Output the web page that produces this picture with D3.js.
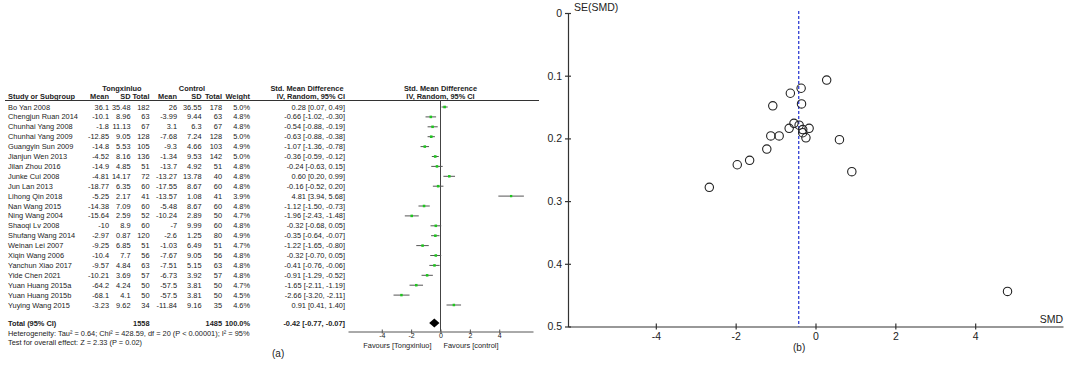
<!DOCTYPE html>
<html>
<head>
<meta charset="utf-8">
<script src="https://cdn.jsdelivr.net/npm/d3@7"></script>
<style>
  body { margin: 0; background: #fff; }
  svg { display: block; font-family: "Liberation Sans", Arial, sans-serif; }
</style>
</head>
<body>
<svg id="chart" width="1065" height="370"></svg>
<script>
const studies = ["Bo Yan 2008", "Chengjun Ruan 2014", "Chunhai Yang 2008", "Chunhai Yang 2009", "Guangyin Sun 2009",
  "Jianjun Wen 2013", "Jilan Zhou 2016", "Junke Cui 2008", "Jun Lan 2013", "Lihong Qin 2018", "Nan Wang 2015",
  "Ning Wang 2004", "Shaoqi Lv 2008", "Shufang Wang 2014", "Weinan Lei 2007", "Xiqin Wang 2006", "Yanchun Xiao 2017",
  "Yide Chen 2021", "Yuan Huang 2015a", "Yuan Huang 2015b", "Yuying Wang 2015"];
const txMean = [36.1, -10.1, -1.8, -12.85, -14.8, -4.52, -14.9, -4.81, -18.77, -5.25, -14.38, -15.64, -10, -2.97, -9.25, -10.4, -9.57, -10.21, -64.2, -68.1, -3.23];
const txSD = [35.48, 8.96, 11.13, 9.05, 5.53, 8.16, 4.85, 14.17, 6.35, 2.17, 7.09, 2.59, 8.9, 0.87, 6.85, 7.7, 4.84, 3.69, 4.24, 4.1, 9.62];
const txN = [182, 63, 67, 128, 105, 136, 51, 72, 60, 41, 60, 52, 60, 120, 51, 56, 63, 57, 50, 50, 34];
const ctMean = [26, -3.99, 3.1, -7.68, -9.3, -1.34, -13.7, -13.27, -17.55, -13.57, -5.48, -10.24, -7, -2.6, -1.03, -7.67, -7.51, -6.73, -57.5, -57.5, -11.84];
const ctSD = [36.55, 9.44, 6.3, 7.24, 4.66, 9.53, 4.92, 13.78, 8.67, 1.08, 8.67, 2.89, 9.99, 1.25, 6.49, 9.05, 5.15, 3.92, 3.81, 3.81, 9.16];
const ctN = [178, 63, 67, 128, 103, 142, 51, 40, 60, 41, 60, 50, 60, 80, 51, 56, 63, 57, 50, 50, 35];
const weight = [5.0, 4.8, 4.8, 5.0, 4.9, 5.0, 4.8, 4.8, 4.8, 3.9, 4.8, 4.7, 4.8, 4.9, 4.7, 4.8, 4.8, 4.8, 4.7, 4.5, 4.6];
const smd = [0.28, -0.66, -0.54, -0.63, -1.07, -0.36, -0.24, 0.60, -0.16, 4.81, -1.12, -1.96, -0.32, -0.35, -1.22, -0.32, -0.41, -0.91, -1.65, -2.66, 0.91];
const ciLow = [0.07, -1.02, -0.88, -0.88, -1.36, -0.59, -0.63, 0.20, -0.52, 3.94, -1.50, -2.43, -0.68, -0.64, -1.65, -0.70, -0.76, -1.29, -2.11, -3.20, 0.41];
const ciHigh = [0.49, -0.30, -0.19, -0.38, -0.78, -0.12, 0.15, 0.99, 0.20, 5.68, -0.73, -1.48, 0.05, -0.07, -0.80, 0.05, -0.06, -0.52, -1.19, -2.11, 1.40];
const se = [0.107, 0.184, 0.176, 0.128, 0.148, 0.120, 0.199, 0.202, 0.184, 0.444, 0.196, 0.242, 0.186, 0.145, 0.217, 0.191, 0.179, 0.196, 0.235, 0.278, 0.253];

const totalTx = 1558, totalCt = 1485, totalWeight = 100.0;
const pooled = [-0.42, -0.77, -0.07];
const heterogeneity = "Heterogeneity: Tau² = 0.64; Chi² = 428.59, df = 20 (P < 0.00001); I² = 95%";
const overallTest = "Test for overall effect: Z = 2.33 (P = 0.02)";
const forestTicks = [-4, -2, 0, 2, 4];
const funnelXTicks = [-4, -2, 0, 2, 4];
const funnelYTicks = [0, 0.1, 0.2, 0.3, 0.4, 0.5];

const svg = d3.select("#chart");
const ink = "#222";
const fs = 7.4;

// ---------- (a) forest plot ----------
const rowY = d3.scalePoint().domain(studies).range([107, 305]);
const fx = d3.scaleLinear().domain([-6.3, 6.3]).range([348, 533]);
const ci = (m, l, h) => `${m.toFixed(2)} [${l.toFixed(2)}, ${h.toFixed(2)}]`;

const rows = studies.map((s, i) => ({
  study: s, txMean: txMean[i], txSD: txSD[i], txN: txN[i],
  ctMean: ctMean[i], ctSD: ctSD[i], ctN: ctN[i],
  weight: weight[i], smd: smd[i], lo: ciLow[i], hi: ciHigh[i], se: se[i]
}));

// table columns
const cols = [
  { head: "Study or Subgroup", x: 8, anchor: "start", val: d => d.study },
  { head: "Mean", x: 109, anchor: "end", val: d => d.txMean },
  { head: "SD", x: 130.5, anchor: "end", val: d => d.txSD },
  { head: "Total", x: 149.5, anchor: "end", val: d => d.txN },
  { head: "Mean", x: 177, anchor: "end", val: d => d.ctMean },
  { head: "SD", x: 201.5, anchor: "end", val: d => d.ctSD },
  { head: "Total", x: 222, anchor: "end", val: d => d.ctN },
  { head: "Weight", x: 250, anchor: "end", val: d => d.weight.toFixed(1) + "%" },
  { head: "IV, Random, 95% CI", x: 345, anchor: "end", val: d => ci(d.smd, d.lo, d.hi) }
];

const table = svg.append("g").attr("font-size", fs).attr("fill", ink);

const groupHeads = [
  { t: "Tongxinluo", x: 122 },
  { t: "Control", x: 192 },
  { t: "Std. Mean Difference", x: 307 },
  { t: "Std. Mean Difference", x: fx(0) }
];
table.selectAll("text.group")
  .data(groupHeads)
  .join("text")
  .attr("class", "group")
  .attr("x", d => d.x)
  .attr("y", 90.5)
  .attr("text-anchor", "middle")
  .attr("font-weight", "bold")
  .text(d => d.t);

table.selectAll("text.head")
  .data(cols)
  .join("text")
  .attr("class", "head")
  .attr("x", d => d.x)
  .attr("y", 99)
  .attr("text-anchor", d => d.anchor)
  .attr("font-weight", "bold")
  .text(d => d.head);

table.append("text")
  .attr("x", fx(0))
  .attr("y", 99)
  .attr("text-anchor", "middle")
  .attr("font-weight", "bold")
  .text("IV, Random, 95% CI");

svg.append("line")
  .attr("x1", 5).attr("x2", 539)
  .attr("y1", 100.5).attr("y2", 100.5)
  .attr("stroke", "#333").attr("stroke-width", 1);

const rowG = table.selectAll("g.row")
  .data(rows)
  .join("g")
  .attr("class", "row")
  .attr("transform", d => `translate(0,${rowY(d.study)})`);

cols.forEach(c => {
  rowG.append("text")
    .attr("x", c.x)
    .attr("dy", "0.35em")
    .attr("text-anchor", c.anchor)
    .text(d => c.val(d));
});

// total row
const totalY = 323;
const totals = [
  { x: 8, anchor: "start", t: "Total (95% CI)" },
  { x: 149.5, anchor: "end", t: totalTx },
  { x: 222, anchor: "end", t: totalCt },
  { x: 250, anchor: "end", t: totalWeight.toFixed(1) + "%" },
  { x: 345, anchor: "end", t: ci(pooled[0], pooled[1], pooled[2]) }
];
table.selectAll("text.total")
  .data(totals)
  .join("text")
  .attr("class", "total")
  .attr("x", d => d.x)
  .attr("y", totalY)
  .attr("dy", "0.35em")
  .attr("text-anchor", d => d.anchor)
  .attr("font-weight", "bold")
  .text(d => d.t);

table.append("text").attr("x", 8).attr("y", 333).attr("dy", "0.35em").text(heterogeneity);
table.append("text").attr("x", 8).attr("y", 342).attr("dy", "0.35em").text(overallTest);

// plot region
const plot = svg.append("g");
plot.append("line")
  .attr("x1", fx(0)).attr("x2", fx(0))
  .attr("y1", 100.5).attr("y2", 331.5)
  .attr("stroke", "#444").attr("stroke-width", 1);

const size = d3.scaleSqrt().domain([0, 5]).range([0, 2.6]);
const marks = plot.selectAll("g.mark")
  .data(rows)
  .join("g")
  .attr("class", "mark")
  .attr("transform", d => `translate(0,${rowY(d.study)})`);
marks.append("line")
  .attr("x1", d => fx(d.lo)).attr("x2", d => fx(d.hi))
  .attr("stroke", "#555").attr("stroke-width", 1);
marks.append("rect")
  .attr("x", d => fx(d.smd) - size(d.weight) / 2)
  .attr("y", d => -size(d.weight) / 2)
  .attr("width", d => size(d.weight))
  .attr("height", d => size(d.weight))
  .attr("fill", "#1fc41f");

plot.append("path")
  .datum(pooled)
  .attr("d", d => `M${fx(d[1])},${totalY}L${fx(d[0])},${totalY - 4.5}L${fx(d[2])},${totalY}L${fx(d[0])},${totalY + 4.5}Z`)
  .attr("fill", "#000");

const fAxis = plot.append("g")
  .attr("transform", "translate(0,331.5)")
  .call(d3.axisBottom(fx).tickValues(forestTicks).tickSize(2).tickSizeOuter(0).tickPadding(0).tickFormat(d => String(d)));
fAxis.attr("font-size", 7).attr("font-family", null);
fAxis.select(".domain").attr("stroke", "#555");
fAxis.selectAll(".tick line").attr("y1", -2).attr("stroke", "#555");
fAxis.selectAll(".tick text").attr("fill", ink).attr("y", 1.5);

plot.append("text").attr("x", fx(0) - 9).attr("y", 348).attr("text-anchor", "end")
  .attr("font-size", fs).attr("fill", ink).text("Favours [Tongxinluo]");
plot.append("text").attr("x", fx(0) + 3).attr("y", 348).attr("text-anchor", "start")
  .attr("font-size", fs).attr("fill", ink).text("Favours [control]");

svg.append("text").attr("x", 272).attr("y", 357).attr("font-size", 10).attr("fill", ink).text("(a)");

// ---------- (b) funnel plot ----------
const gx = d3.scaleLinear().domain([-6.2, 6.2]).range([568, 1063]);
const gy = d3.scaleLinear().domain([0, 0.5]).range([13, 326.5]);
const funnel = svg.append("g");

const yAxis = funnel.append("g")
  .attr("transform", `translate(${gx.range()[0]},0)`)
  .call(d3.axisLeft(gy).tickValues(funnelYTicks).tickSize(3).tickSizeOuter(0).tickPadding(3).tickFormat(d => String(d)));
yAxis.attr("font-size", 10.5).attr("font-family", null);
yAxis.selectAll(".tick line").attr("x1", 3);

const xAxis = funnel.append("g")
  .attr("transform", `translate(0,${gy.range()[1]})`)
  .call(d3.axisBottom(gx).tickValues(funnelXTicks).tickSize(3).tickSizeOuter(0).tickPadding(3).tickFormat(d => String(d)));
xAxis.attr("font-size", 10.5).attr("font-family", null);
xAxis.selectAll(".tick line").attr("y1", -3);

[yAxis, xAxis].forEach(a => {
  a.selectAll("path, line").attr("stroke", "#333").attr("stroke-width", 1.2);
  a.selectAll("text").attr("fill", ink);
});

funnel.append("line")
  .attr("x1", gx(pooled[0])).attr("x2", gx(pooled[0]))
  .attr("y1", gy(0) - 2).attr("y2", gy(0.5))
  .attr("stroke", "#1f2fd0").attr("stroke-width", 1.2)
  .attr("stroke-dasharray", "3,2");

funnel.selectAll("circle")
  .data(rows)
  .join("circle")
  .attr("cx", d => gx(d.smd))
  .attr("cy", d => gy(d.se))
  .attr("r", 4.2)
  .attr("fill", "none")
  .attr("stroke", "#222")
  .attr("stroke-width", 1.1);

funnel.append("text").attr("x", 574).attr("y", 11).attr("font-size", 10.5).attr("fill", ink).text("SE(SMD)");
funnel.append("text").attr("x", 1063).attr("y", 323).attr("text-anchor", "end").attr("font-size", 10.5).attr("fill", ink).text("SMD");
svg.append("text").attr("x", 793).attr("y", 351).attr("font-size", 10).attr("fill", ink).text("(b)");
</script>
</body>
</html>
